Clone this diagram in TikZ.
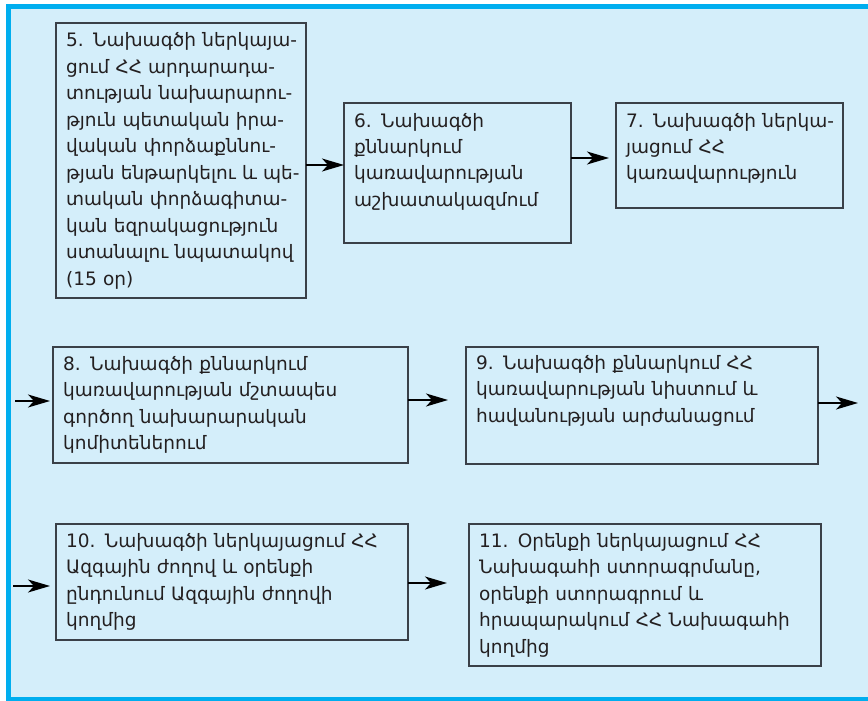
\documentclass[tikz,border=0pt]{standalone}
\usepackage{fontspec}
\setmainfont{DejaVu Sans}
\usetikzlibrary{arrows.meta}
\definecolor{frameblue}{HTML}{00AEEF}
\definecolor{paleblue}{HTML}{D4EEFA}
\definecolor{boxline}{HTML}{3A4048}
\definecolor{inktext}{HTML}{231F20}
\tikzset{
  stepbox/.style={draw=boxline, line width=1.3pt, fill=paleblue,
    inner sep=0pt, outer sep=0pt, anchor=north west},
  txt/.style={anchor=base west, inner sep=0pt, align=left, text=inktext,
    font=\fontsize{18.5}{26.5}\selectfont},
  flow/.style={draw=black, line width=1.3pt,
    -{Stealth[length=22pt, width=13pt, inset=6pt]}}
}
\begin{document}
\begin{tikzpicture}[x=1pt, y=-1pt]
\useasboundingbox (0,0) rectangle (868,701);
% panel with its open right side
\fill[white] (0,0) rectangle (868,701);
\fill[paleblue] (8.5,6.5) rectangle (870,699);
\draw[frameblue, line width=5pt] (870,6.5) -- (8.5,6.5) -- (8.5,699) -- (870,699);

% boxes
\node[stepbox, minimum width=250pt, minimum height=275pt] (b5) at (56,23) {};
\node[stepbox, minimum width=227pt, minimum height=140pt] (b6) at (344,103) {};
\node[stepbox, minimum width=227pt, minimum height=105pt] (b7) at (616,103) {};
\node[stepbox, minimum width=355pt, minimum height=116pt] (b8) at (53,347) {};
\node[stepbox, minimum width=352pt, minimum height=117pt] (b9) at (466,347) {};
\node[stepbox, minimum width=352pt, minimum height=116pt] (b10) at (56,524) {};
\node[stepbox, minimum width=352pt, minimum height=142pt] (b11) at (469,524) {};

% box texts
\node[txt, text width=240pt] (t5) at ([shift={(10,24)}]b5.north west)
 {5. Նախագծի ներկայա-\\ցում ՀՀ արդարադա-\\տության նախարարու-\\թյուն պետական իրա-\\վական փորձաքննու-\\թյան ենթարկելու և պե-\\տական փորձագիտա-\\կան եզրակացություն\\ստանալու նպատակով\\(15 օր)};
\node[txt, text width=215pt] (t6) at ([shift={(10,24)}]b6.north west)
 {6. Նախագծի\\քննարկում\\կառավարության\\աշխատակազմում};
\node[txt, text width=215pt] (t7) at ([shift={(10,24)}]b7.north west)
 {7. Նախագծի ներկա-\\յացում ՀՀ\\կառավարություն};
\node[txt, text width=340pt] (t8) at ([shift={(10,23)}]b8.north west)
 {8. Նախագծի քննարկում\\կառավարության մշտապես\\գործող նախարարական\\կոմիտեներում};
\node[txt, text width=340pt] (t9) at ([shift={(10,22)}]b9.north west)
 {9. Նախագծի քննարկում ՀՀ\\կառավարության նիստում և\\հավանության արժանացում};
\node[txt, text width=340pt] (t10) at ([shift={(10,23)}]b10.north west)
 {10. Նախագծի ներկայացում ՀՀ\\Ազգային ժողով և օրենքի\\ընդունում Ազգային ժողովի\\կողմից};
\node[txt, text width=340pt] (t11) at ([shift={(10,23)}]b11.north west)
 {11. Օրենքի ներկայացում ՀՀ\\Նախագահի ստորագրմանը,\\օրենքի ստորագրում և\\հրապարակում ՀՀ Նախագահի\\կողմից};

% rows of the connectors
\coordinate (r5) at (0,165);
\coordinate (r6) at (0,158);
\coordinate (r8) at (0,401);
\coordinate (r9) at (0,400);
\coordinate (r9out) at (0,403);
\coordinate (r10) at (0,586);
\coordinate (r11) at (0,583);
\coordinate (in8) at (15,401);
\coordinate (in10) at (13,586);
\coordinate (out9) at (858,403);

% connectors
\draw[flow] (b5.east |- r5) -- (b6.west |- r5);
\draw[flow, shorten >=7pt] (b6.east |- r6) -- (b7.west |- r6);
\draw[flow, shorten >=3pt] (in8) -- (b8.west |- r8);
\draw[flow, shorten >=18pt] (b8.east |- r9) -- (b9.west |- r9);
\draw[flow] (b9.east |- r9out) -- (out9);
\draw[flow, shorten >=6pt] (in10) -- (b10.west |- r10);
\draw[flow, shorten >=22pt] (b10.east |- r11) -- (b11.west |- r11);
\end{tikzpicture}
\end{document}
